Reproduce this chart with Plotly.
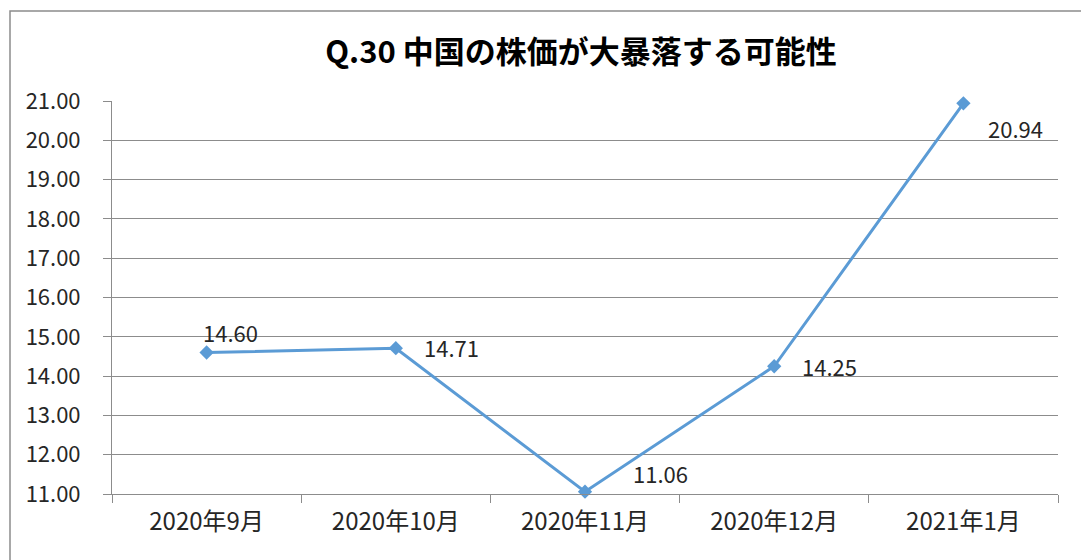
import plotly.graph_objects as go

categories = ["2020年9月", "2020年10月", "2020年11月", "2020年12月", "2021年1月"]
values = [14.60, 14.71, 11.06, 14.25, 20.94]
value_labels = ["14.60", "14.71", "11.06", "14.25", "20.94"]
y_tick_values = [11, 12, 13, 14, 15, 16, 17, 18, 19, 20, 21]
y_tick_labels = ["11.00", "12.00", "13.00", "14.00", "15.00", "16.00", "17.00", "18.00", "19.00", "20.00", "21.00"]
title_text = "Q.30 中国の株価が大暴落する可能性"

# label placement (pixel offsets from points)
label_xshift = [24, 26, 46, 26, 23]
label_yshift = [21, 1, 19, 0, -25]
label_xanchor = ["center", "left", "left", "left", "left"]

LINE = "#5B9BD5"
TXT = "#262626"
FONT = "Noto Sans CJK JP, Noto Sans, sans-serif"

fig = go.Figure()
fig.add_trace(go.Scatter(
    x=categories, y=values, mode="lines+markers",
    line=dict(color=LINE, width=3),
    marker=dict(symbol="diamond", size=11, color=LINE),
    cliponaxis=False,
    hoverinfo="skip", showlegend=False,
))

annotations = []
for c, v, t, xs, ys, xa in zip(categories, values, value_labels, label_xshift, label_yshift, label_xanchor):
    annotations.append(dict(x=c, y=v, xref="x", yref="y", text=t, showarrow=False,
                            xanchor=xa, yanchor="middle", xshift=xs, yshift=ys,
                            font=dict(family=FONT, size=22, color=TXT)))
fig.update_layout(annotations=annotations)

fig.update_layout(
    width=1081, height=560,
    margin=dict(l=112, r=23, t=101, b=66, autoexpand=False),
    paper_bgcolor="white", plot_bgcolor="white",
    title=dict(text="<b>" + title_text + "</b>", x=581 / 1081, xref="container", xanchor="center",
               y=1 - 52 / 560, yref="container", yanchor="middle",
               font=dict(family=FONT, size=31, color="#000000")),
    xaxis=dict(type="category", range=[-0.5, 4.5], showgrid=False,
               showline=True, linecolor="#8c8c8c", linewidth=1,
               ticks="outside", tickson="boundaries", ticklen=8, tickcolor="#8c8c8c",
               ticklabelstandoff=6,
               tickfont=dict(family=FONT, size=24, color=TXT), fixedrange=True),
    yaxis=dict(range=[11, 21], tickvals=y_tick_values, ticktext=y_tick_labels,
               showgrid=True, gridcolor="#8c8c8c", gridwidth=1, zeroline=False,
               showline=True, linecolor="#8c8c8c", linewidth=1,
               ticks="outside", ticklen=8, tickcolor="#8c8c8c",
               ticklabelstandoff=18,
               tickfont=dict(family=FONT, size=22, color=TXT), fixedrange=True),
    shapes=[dict(type="rect", xref="paper", yref="paper",
                 x0=(10 - 112) / 946, x1=(1095 - 112) / 946,
                 y0=(494 - 575) / 393, y1=(494 - 11) / 393,
                 line=dict(color="#8c8c8c", width=1.5), fillcolor="rgba(0,0,0,0)", layer="below")],
)

fig.write_html("out.html", config={"displayModeBar": False},
               post_script="document.body.style.margin='0';")
